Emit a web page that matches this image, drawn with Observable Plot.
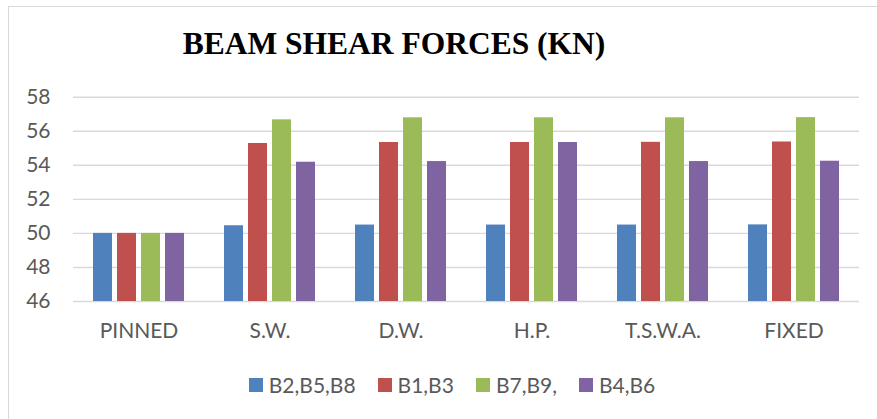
<!DOCTYPE html>
<html>
<head>
<meta charset="utf-8">
<script src="https://cdn.jsdelivr.net/npm/d3@7"></script>
<script src="https://cdn.jsdelivr.net/npm/@observablehq/plot@0.6"></script>
<style>
  html, body { margin: 0; padding: 0; background: #fff; overflow: hidden; }
  #wrap { position: relative; width: 877px; height: 419px; background: #fff; }
  #frame { position: absolute; left: 7.5px; top: 6px; width: 900px; height: 440px; border: 1px solid #d9d9d9; box-sizing: border-box; }
  #title { position: absolute; left: 0; top: 28px; width: 788px; text-align: center;
           font-family: "Liberation Serif", "Times New Roman", serif; font-weight: bold; font-size: 31.5px; line-height: 1; color: #000; }
  #chart { position: absolute; left: 0; top: 0; }
  #legend { position: absolute; left: 0; top: 372px; width: 877px; padding-left: 27px; box-sizing: border-box;
            display: flex; justify-content: center; }
  .lg-swatches { font-family: Lato, sans-serif !important; font-size: 21px !important; color: #595959 !important; line-height: 25px; min-height: 25px !important; margin: 0 !important; }
  .lg-swatch { margin-right: 22px !important; }
  .lg-swatch:last-child { margin-right: 0 !important; }
  .lg-swatch svg { margin-right: 6px !important; }
</style>
</head>
<body>
<div id="wrap">
  <div id="frame"></div>
  <div id="chart"></div>
  <div id="title">BEAM SHEAR FORCES (KN)</div>
  <div id="legend"></div>
</div>
<script>
const categories = ["PINNED", "S.W.", "D.W.", "H.P.", "T.S.W.A.", "FIXED"];
const series = ["B2,B5,B8", "B1,B3", "B7,B9,", "B4,B6"];
const valuesB2B5B8 = [50.0, 50.45, 50.49, 50.49, 50.49, 50.5];
const valuesB1B3   = [50.0, 55.28, 55.34, 55.34, 55.35, 55.37];
const valuesB7B9   = [50.0, 56.67, 56.79, 56.79, 56.79, 56.8];
const valuesB4B6   = [50.0, 54.18, 54.22, 55.34, 54.22, 54.24];
const yTicks = [46, 48, 50, 52, 54, 56, 58];
const colors = ["#4F81BD", "#C0504D", "#9BBB59", "#8064A2"];

const seriesValues = [valuesB2B5B8, valuesB1B3, valuesB7B9, valuesB4B6];
const data = [];
categories.forEach((c, i) => {
  series.forEach((s, j) => {
    data.push({category: c, series: s, value: seriesValues[j][i]});
  });
});
const yMin = yTicks[0];

const chart = Plot.plot({
  width: 877,
  height: 360,
  marginTop: 96.7,
  marginBottom: 59,
  marginLeft: 72,
  marginRight: 18,
  style: {
    fontFamily: "Lato, sans-serif",
    fontSize: "21px",
    color: "#595959",
    background: "transparent",
    overflow: "visible"
  },
  fx: {domain: categories, padding: 0, label: null, tickSize: 0, tickPadding: 22},
  x: {domain: series, axis: null, paddingInner: 0.21, paddingOuter: 0.83},
  y: {domain: [yTicks[0], yTicks[yTicks.length - 1]], ticks: yTicks, label: null, tickSize: 0, tickPadding: 23},
  color: {domain: series, range: colors},
  marks: [
    Plot.ruleY(yTicks, {stroke: "#d9d9d9", strokeWidth: 1.4}),
    Plot.barY(data, {fx: "category", x: "series", y1: yMin, y2: "value", fill: "series"})
  ]
});
document.getElementById("chart").appendChild(chart);

const legend = chart.legend("color", {className: "lg", swatchSize: 14});
document.getElementById("legend").appendChild(legend);
</script>
</body>
</html>
